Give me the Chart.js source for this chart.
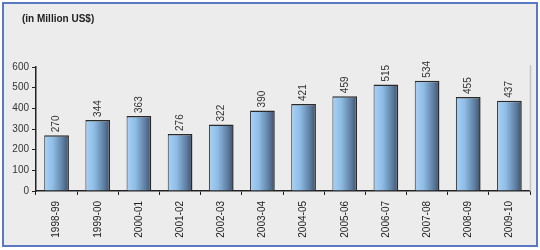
<!DOCTYPE html>
<html><head><meta charset="utf-8">
<script src="https://cdn.jsdelivr.net/npm/chart.js@4"></script>
<style>
html,body{margin:0;padding:0;background:#fff;}
#wrap{position:absolute;left:2px;top:2px;width:532px;height:241px;border:2px solid #5b78c2;background:#ececec;}
#title{position:absolute;left:22px;top:13px;font:bold 10px "Liberation Sans",Arial,sans-serif;color:#222;}
canvas{position:absolute;left:0;top:0;}
</style></head>
<body>
<div id="wrap"></div>
<canvas id="c" width="540" height="250"></canvas>
<div id="title">(in Million US$)</div>
<script>
const categories = ["1998-99","1999-00","2000-01","2001-02","2002-03","2003-04","2004-05","2005-06","2006-07","2007-08","2008-09","2009-10"];
const exportsValues = [270,344,363,276,322,390,421,459,515,534,455,437];
const yTicks = [0,100,200,300,400,500,600];

const FONT = '"Liberation Sans", Arial, sans-serif';
const BAR_PCT = 0.6;

function barGradient(ctx){
  const chart = ctx.chart;
  const xs = chart.scales && chart.scales.x;
  if(!xs || !chart.chartArea) return '#86b2dc';
  const c = xs.getPixelForValue(ctx.dataIndex);
  const w = (xs.width / categories.length) * BAR_PCT;
  const g = chart.ctx.createLinearGradient(c - w/2, 0, c + w/2, 0);
  g.addColorStop(0, '#a9d2f6');
  g.addColorStop(0.35, '#8fbde6');
  g.addColorStop(0.75, '#5f7fa3');
  g.addColorStop(1, '#3c5068');
  return g;
}

const labelPlugin = {
  id: 'valLabels',
  afterDatasetsDraw(chart){
    const ctx = chart.ctx;
    const meta = chart.getDatasetMeta(0);
    ctx.save();
    ctx.font = '10px ' + FONT;
    ctx.fillStyle = '#333';
    ctx.textAlign = 'left';
    ctx.textBaseline = 'middle';
    meta.data.forEach((bar, i) => {
      ctx.save();
      ctx.translate(bar.x, bar.y - 3);
      ctx.rotate(-Math.PI/2);
      ctx.fillText(String(exportsValues[i]), 0, 0);
      ctx.restore();
    });
    // right edge line of the plot area
    const a = chart.chartArea;
    ctx.strokeStyle = '#c4c4c4';
    ctx.lineWidth = 1.5;
    ctx.beginPath();
    ctx.moveTo(a.right + 0.5, a.top - 2);
    ctx.lineTo(a.right + 0.5, a.bottom);
    ctx.stroke();
    ctx.restore();
  }
};

new Chart(document.getElementById('c'), {
  type: 'bar',
  data: {
    labels: categories,
    datasets: [{
      data: exportsValues,
      backgroundColor: barGradient,
      borderColor: '#2a2a2a',
      borderWidth: {top:1.5, right:1.5, left:1, bottom:0},
      barPercentage: BAR_PCT,
      categoryPercentage: 1.0
    }]
  },
  options: {
    responsive: false,
    animation: false,
    devicePixelRatio: 1,
    layout: { padding: { left: 0, top: 67, right: 10, bottom: 0 } },
    plugins: { legend: {display:false}, tooltip: {enabled:false}, title:{display:false} },
    scales: {
      x: {
        grid: { display: true, drawOnChartArea: false, drawTicks: true, tickLength: 4, color: '#222', offset: true },
        border: { display: true, color: '#222', width: 1.5 },
        ticks: { color: '#222', font: { family: FONT, size: 10 }, maxRotation: 90, minRotation: 90, padding: 6, autoSkip: false },
        afterFit(s){ s.height = 59; }
      },
      y: {
        min: 0, max: 600,
        afterBuildTicks(s){ s.ticks = yTicks.map(v => ({value: v})); },
        grid: { display: true, drawOnChartArea: false, drawTicks: true, tickLength: 4, color: '#222' },
        border: { display: true, color: '#222', width: 1.5 },
        ticks: { color: '#333', font: { family: FONT, size: 10 }, padding: 3 },
        afterFit(s){ s.width = 36; }
      }
    }
  },
  plugins: [labelPlugin]
});
</script>
</body></html>
